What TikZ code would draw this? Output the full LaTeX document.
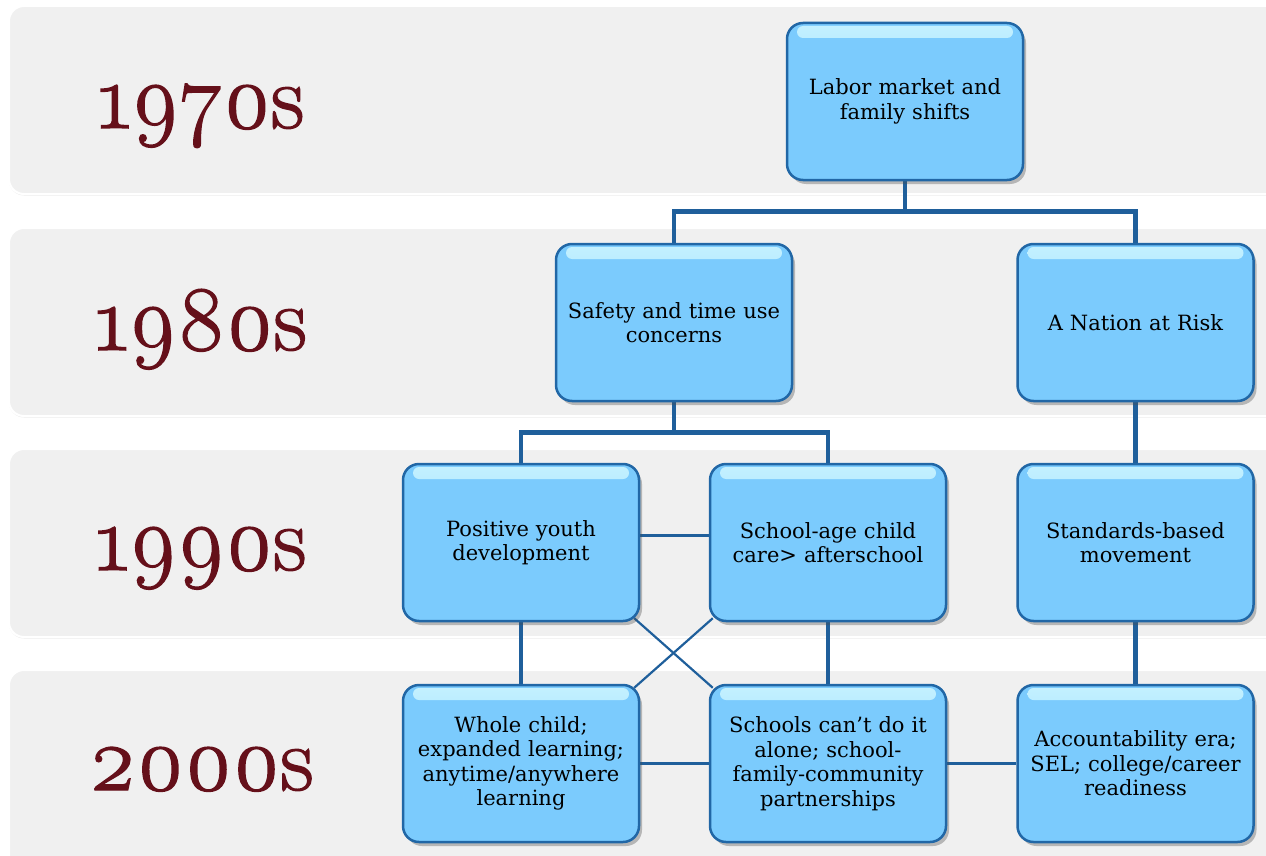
\documentclass[tikz,border=0pt]{standalone}
\usepackage{fontspec}
\setmainfont{DejaVu Serif}
\newfontfamily\decfont[Numbers=OldStyle,FakeBold=1.6]{Latin Modern Roman}
\usetikzlibrary{shadows,calc}
\definecolor{bandfill}{HTML}{F0F0F0}
\definecolor{boxfill}{HTML}{7BCBFD}
\definecolor{boxline}{HTML}{2167A6}
\definecolor{conn}{HTML}{1F5F9B}
\definecolor{decade}{HTML}{65101A}
\definecolor{gloss}{HTML}{C4F1FF}
\pgfdeclarelayer{bands}\pgfdeclarelayer{lines}
\pgfsetlayers{bands,lines,main}
\tikzset{
  evbox/.style={draw=boxline, line width=2.5pt, fill=boxfill, rounded corners=16pt,
    minimum width=236pt, minimum height=157pt, text width=226pt, align=center,
    font=\fontsize{21}{24.5}\selectfont, inner sep=0pt,
    drop shadow={shadow xshift=3pt, shadow yshift=-4pt, opacity=0.35, fill=black!70},
    path picture={\fill[rounded corners=6pt, top color=gloss, bottom color=boxfill]
      ([xshift=10pt,yshift=-3pt]path picture bounding box.north west) rectangle
      ([xshift=-10pt,yshift=-15pt]path picture bounding box.north east);}},
  band/.style={fill=bandfill, draw=white, line width=2pt, rounded corners=15pt,
    drop shadow={shadow xshift=0pt, shadow yshift=-1.5pt, opacity=0.08, fill=black}},
  declabel/.style={anchor=base, text=decade, font=\decfont\fontsize{92}{92}\selectfont, inner sep=0pt},
  thickconn/.style={draw=conn, line width=4.5pt},
  thinconn/.style={draw=conn, line width=2.2pt},
}
\begin{document}
\begin{tikzpicture}[x=1pt,y=-1pt]
\clip (0,0) rectangle (1266,856);
\useasboundingbox (0,0) rectangle (1266,856);
\begin{pgfonlayer}{bands}
  \fill[white] (0,0) rectangle (1266,856);
  \path[band] (9,6) rectangle (1290,194);
  \path[band] (9,228) rectangle (1290,416);
  \path[band] (9,449) rectangle (1290,637);
  \path[band] (9,670) rectangle (1290,880);
\end{pgfonlayer}
\node[declabel] (d70) at (201,128) {1970s};
\node[declabel] (d80) at (201,350) {1980s};
\node[declabel] (d90) at (201,570) {1990s};
\node[declabel] (d00) at (201,790) {2000s};

\node[evbox] (L) at (905,101.5) {Labor market and\\family shifts};
\node[evbox] (S) at (674,322.5) {Safety and time use\\concerns};
\node[evbox] (N) at (1135.5,322.5) {A Nation at Risk};
\node[evbox] (P) at (521,542.5) {Positive youth\\development};
\node[evbox] (C) at (828,542.5) {School-age child\\care> afterschool};
\node[evbox] (D) at (1135.5,542.5) {Standards-based\\movement};
\node[evbox] (W) at (521,763.5) {Whole child;\\expanded learning;\\anytime/anywhere\\learning};
\node[evbox] (K) at (828,763.5) {Schools can’t do it\\alone; school-\\family-community\\partnerships};
\node[evbox] (A) at (1135.5,763.5) {Accountability era;\\SEL; college/career\\readiness};

\begin{pgfonlayer}{lines}
  \draw[thickconn] (L.south) -- ++(0,30) -| (S.north);
  \draw[thickconn] (L.south) -- ++(0,30) -| (N.north);
  \draw[thickconn] (S.south) -- ++(0,30) -| (P.north);
  \draw[thickconn] (S.south) -- ++(0,30) -| (C.north);
  \draw[thickconn] (N.south) -- (D.north);
  \draw[thickconn] (P.south) -- (W.north);
  \draw[thickconn] (C.south) -- (K.north);
  \draw[thickconn] (D.south) -- (A.north);
  \draw[thinconn] ($(P.east)+(0,-7)$) -- ($(C.west)+(0,-7)$);
  \draw[thinconn] (W.east) -- (K.west);
  \draw[thinconn] (K.east) -- (A.west);
  \draw[thinconn] ($(P.south east)+(-6,-4)$) -- ($(K.north west)+(4,4)$);
  \draw[thinconn] ($(C.south west)+(4,-4)$) -- ($(W.north east)+(-6,4)$);
\end{pgfonlayer}
\end{tikzpicture}
\end{document}
